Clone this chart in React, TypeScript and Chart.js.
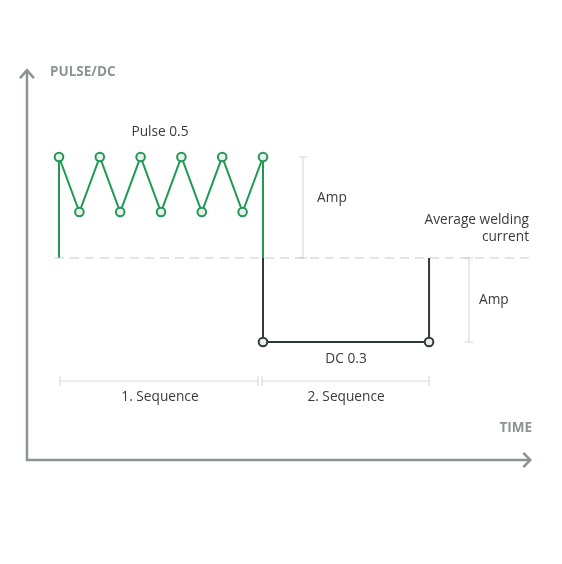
import React, { useEffect, useRef } from "react";
import { Chart, registerables } from "chart.js";

Chart.register(...registerables);

// ---- data (time units / current units) ----
const pulseTimes = [0, 1, 2, 3, 4, 5, 6, 7, 8, 9, 10];
const pulseValues = [3.0, 2.455, 3.0, 2.455, 3.0, 2.455, 3.0, 2.455, 3.0, 2.455, 3.0];
const averageCurrent = 2.0;
const dcLevel = 1.168;
const dcStart = 10;
const dcEnd = 18.14;
const seq1Range = [0.05, 9.75];
const seq2Range = [9.95, 18.14];
const ampMarkers = [
  { t: 11.96, from: 3.0, to: 2.0, label: "Amp", labelT: 12.65, labelY: 2.594 },
  { t: 20.1, from: 2.0, to: 1.168, label: "Amp", labelT: 20.59, labelY: 1.584 },
];

const X_MIN = -2.892, X_MAX = 24.657, Y_MIN = -1.03, Y_MAX = 4.554;
const AXIS_T = -1.57, AXIS_TOP = 3.86, AXIS_RIGHT = 23.1;

const GREEN = "#1f9a55";
const DARK = "#2e3b35";
const AXIS = "#8a9590";
const LIGHT = "#d9dcda";
const TEXT = "#3a3a3a";

type Lbl = { text: string; t: number; y: number; align: CanvasTextAlign; bold?: boolean; color?: string; size?: number };
const labels: Lbl[] = [
  { text: "PULSE/DC", t: -0.44, y: 3.84, align: "left", bold: true, color: AXIS, size: 13.5 },
  { text: "TIME", t: 23.19, y: 0.317, align: "right", bold: true, color: AXIS, size: 13.5 },
  { text: "Pulse 0.5", t: 4.95, y: 3.25, align: "center" },
  { text: "Average welding", t: 23.04, y: 2.376, align: "right" },
  { text: "current", t: 23.04, y: 2.208, align: "right" },
  { text: "DC 0.3", t: 14.07, y: 1.0, align: "center" },
  { text: "1. Sequence", t: 4.95, y: 0.624, align: "center" },
  { text: "2. Sequence", t: 14.07, y: 0.624, align: "center" },
  ...ampMarkers.map((m) => ({ text: m.label, t: m.labelT, y: m.labelY, align: "left" as CanvasTextAlign })),
];

const seg = (pts: [number, number][], color: string, width: number, extra: any = {}) => ({
  type: "line" as const,
  data: pts.map(([x, y]) => ({ x, y })),
  borderColor: color,
  borderWidth: width,
  pointRadius: 0,
  fill: false,
  tension: 0,
  ...extra,
});

export default function App() {
  const ref = useRef<HTMLCanvasElement>(null);
  useEffect(() => {
    if (!ref.current) return;
    const pulsePts: [number, number][] = [[0, averageCurrent], ...pulseTimes.map((t, i) => [t, pulseValues[i]] as [number, number]), [10, averageCurrent]];
    const pulseRadius = pulsePts.map((_, i) => (i === 0 || i === pulsePts.length - 1 ? 0 : 4.3));
    const dcPts: [number, number][] = [[dcStart, averageCurrent], [dcStart, dcLevel], [dcEnd, dcLevel], [dcEnd, averageCurrent]];
    const capT = 0.2, capY = 0.05;
    const datasets: any[] = [
      // axes
      seg([[AXIS_T, AXIS_TOP], [AXIS_T, 0], [AXIS_RIGHT, 0]], AXIS, 2.5),
      seg([[AXIS_T - 0.34, AXIS_TOP - 0.08], [AXIS_T, AXIS_TOP], [AXIS_T + 0.34, AXIS_TOP - 0.08]], AXIS, 2.5),
      seg([[AXIS_RIGHT - 0.34, 0.07], [AXIS_RIGHT, 0], [AXIS_RIGHT - 0.34, -0.07]], AXIS, 2.5),
      // average dashed line
      seg([[-0.2, averageCurrent], [AXIS_RIGHT, averageCurrent]], "#c6c9c7", 1, { borderDash: [9, 6] }),
      // amp brackets
      ...ampMarkers.flatMap((m) => [
        seg([[m.t, m.from], [m.t, m.to]], LIGHT, 1.2),
        seg([[m.t - capT, m.from], [m.t + capT, m.from]], LIGHT, 1.2),
        seg([[m.t - capT, m.to], [m.t + capT, m.to]], LIGHT, 1.2),
      ]),
      // sequence brackets
      ...[seq1Range, seq2Range].flatMap((r) => [
        seg([[r[0], 0.782], [r[1], 0.782]], LIGHT, 1.2),
        seg([[r[0], 0.782 - capY], [r[0], 0.782 + capY]], LIGHT, 1.2),
        seg([[r[1], 0.782 - capY], [r[1], 0.782 + capY]], LIGHT, 1.2),
      ]),
      // DC
      seg(dcPts, DARK, 2, {
        pointRadius: [0, 4.3, 4.3, 0],
        pointBackgroundColor: "#eceeed",
        pointBorderColor: DARK,
        pointBorderWidth: 2,
      }),
      // pulse
      seg(pulsePts, GREEN, 2, {
        pointRadius: pulseRadius,
        pointBackgroundColor: "#eceeed",
        pointBorderColor: GREEN,
        pointBorderWidth: 2,
      }),
    ];
    const textPlugin = {
      id: "texts",
      afterDatasetsDraw(chart: any) {
        const { ctx, scales } = chart;
        ctx.save();
        ctx.textBaseline = "middle";
        for (const l of labels) {
          ctx.font = `${l.bold ? "bold " : ""}${l.size ?? 13.7}px "Open Sans", sans-serif`;
          ctx.fillStyle = l.color ?? TEXT;
          ctx.textAlign = l.align;
          ctx.fillText(l.text, scales.x.getPixelForValue(l.t), scales.y.getPixelForValue(l.y));
        }
        ctx.restore();
      },
    };
    const chart = new Chart(ref.current, {
      type: "line",
      data: { datasets },
      options: {
        animation: false,
        responsive: true,
        maintainAspectRatio: false,
        layout: { padding: 0 },
        plugins: { legend: { display: false }, tooltip: { enabled: false } },
        scales: {
          x: { type: "linear", min: X_MIN, max: X_MAX, display: false },
          y: { type: "linear", min: Y_MIN, max: Y_MAX, display: false },
        },
      },
      plugins: [textPlugin],
    });
    return () => chart.destroy();
  }, []);
  return (
    <div style={{ position: "absolute", left: 0, top: 0, width: 562, height: 564, background: "#fff" }}>
      <canvas ref={ref} />
    </div>
  );
}
